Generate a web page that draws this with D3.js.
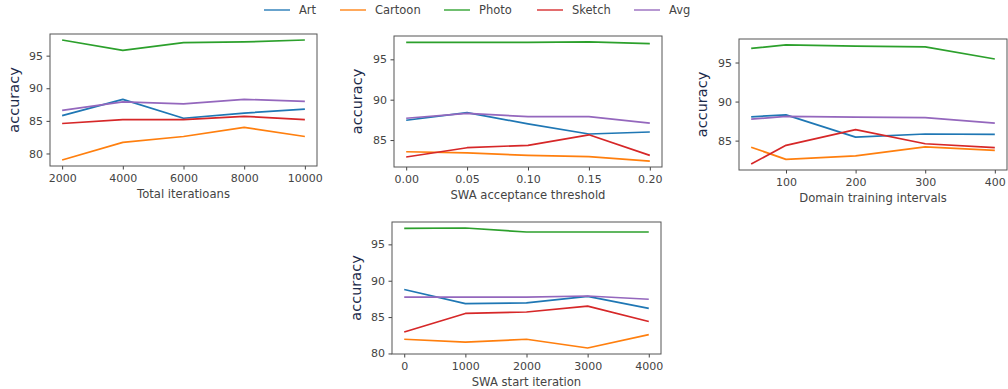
<!DOCTYPE html>
<html>
<head>
<meta charset="utf-8">
<script src="https://cdn.jsdelivr.net/npm/d3@7"></script>
<style>
  body { margin: 0; background: #fff; }
  svg { display: block; font-family: "DejaVu Sans", sans-serif; }
</style>
</head>
<body>
<script>
// series names + colours (matplotlib tab10)
const seriesNames = ['Art', 'Cartoon', 'Photo', 'Sketch', 'Avg'];
const seriesColors = ['#1f77b4', '#ff7f0e', '#2ca02c', '#d62728', '#9467bd'];

// panel 1: total iterations
const iterX = [2000, 4000, 6000, 8000, 10000];
const iterArt = [85.8, 88.3, 85.4, 86.2, 86.8];
const iterCartoon = [79.0, 81.7, 82.6, 84.0, 82.6];
const iterPhoto = [97.4, 95.8, 97.0, 97.1, 97.4];
const iterSketch = [84.6, 85.2, 85.2, 85.7, 85.2];
const iterAvg = [86.6, 87.9, 87.6, 88.3, 88.0];

// panel 2: SWA acceptance threshold
const thrX = [0.00, 0.05, 0.10, 0.15, 0.20];
const thrArt = [87.45, 88.4, 87.0, 85.75, 86.0];
const thrCartoon = [83.55, 83.4, 83.1, 82.95, 82.4];
const thrPhoto = [97.1, 97.1, 97.1, 97.15, 96.95];
const thrSketch = [82.9, 84.05, 84.35, 85.65, 83.1];
const thrAvg = [87.7, 88.3, 87.9, 87.9, 87.1];

// panel 3: domain training intervals
const domX = [50, 100, 200, 300, 400];
const domArt = [88.05, 88.3, 85.45, 85.85, 85.8];
const domCartoon = [84.15, 82.6, 83.05, 84.2, 83.75];
const domPhoto = [96.8, 97.25, 97.1, 97.0, 95.45];
const domSketch = [82.0, 84.4, 86.4, 84.6, 84.1];
const domAvg = [87.75, 88.1, 88.0, 87.95, 87.25];

// panel 4: SWA start iteration
const startX = [0, 1000, 2000, 3000, 4000];
const startArt = [88.8, 86.85, 86.95, 87.85, 86.2];
const startCartoon = [81.95, 81.55, 81.95, 80.75, 82.6];
const startPhoto = [97.2, 97.25, 96.7, 96.7, 96.7];
const startSketch = [82.95, 85.5, 85.7, 86.5, 84.4];
const startAvg = [87.75, 87.75, 87.75, 87.9, 87.45];

const yTickValues = [80, 85, 90, 95];

const panels = [
  { label: 'Total iteratioans', x: iterX, ys: [iterArt, iterCartoon, iterPhoto, iterSketch, iterAvg],
    xTicks: [2000, 4000, 6000, 8000, 10000], fmt: d3.format('d'),
    box: { l: 50, r: 317, t: 34, b: 166 }, ylabX: 14 },
  { label: 'SWA acceptance threshold', x: thrX, ys: [thrArt, thrCartoon, thrPhoto, thrSketch, thrAvg],
    xTicks: [0, 0.05, 0.10, 0.15, 0.20], fmt: d3.format('.2f'),
    box: { l: 394, r: 662, t: 36, b: 167 }, ylabX: 357 },
  { label: 'Domain training intervals', x: domX, ys: [domArt, domCartoon, domPhoto, domSketch, domAvg],
    xTicks: [100, 200, 300, 400], fmt: d3.format('d'),
    box: { l: 739, r: 1007, t: 39, b: 170 }, ylabX: 702 },
  { label: 'SWA start iteration', x: startX, ys: [startArt, startCartoon, startPhoto, startSketch, startAvg],
    xTicks: [0, 1000, 2000, 3000, 4000], fmt: d3.format('d'),
    box: { l: 392, r: 661, t: 222, b: 354 }, ylabX: 356 }
];

const W = 1008, H = 389;
const svg = d3.select('body').append('svg').attr('width', W).attr('height', H);

// matplotlib-like 5% margins
function padded(ext) {
  const m = (ext[1] - ext[0]) * 0.05;
  return [ext[0] - m, ext[1] + m];
}

panels.forEach(p => {
  const b = p.box;
  const xScale = d3.scaleLinear().domain(padded(d3.extent(p.x))).range([b.l, b.r]);
  const yScale = d3.scaleLinear().domain(padded(d3.extent(p.ys.flat()))).range([b.b, b.t]);
  const g = svg.append('g');

  p.ys.forEach((vals, i) => {
    const line = d3.line().x((d, j) => xScale(p.x[j])).y(d => yScale(d));
    g.append('path')
      .datum(vals)
      .attr('d', line)
      .attr('fill', 'none')
      .attr('stroke', seriesColors[i])
      .attr('stroke-width', 1.7)
      .attr('stroke-linejoin', 'round');
  });

  const yt = yTickValues.filter(v => v >= yScale.domain()[0] && v <= yScale.domain()[1]);
  const xAxis = d3.axisBottom(xScale).tickValues(p.xTicks).tickFormat(p.fmt).tickSize(3.5).tickPadding(4.5);
  const yAxis = d3.axisLeft(yScale).tickValues(yt).tickSize(3.5).tickPadding(3.5);

  const gx = g.append('g').attr('transform', 'translate(0,' + b.b + ')').call(xAxis);
  const gy = g.append('g').attr('transform', 'translate(' + b.l + ',0)').call(yAxis);
  [gx, gy].forEach(ax => {
    ax.select('.domain').remove();
    ax.selectAll('line').attr('stroke', '#444');
    ax.selectAll('text').attr('fill', '#444').style('font-size', '11px').style('font-family', '"DejaVu Sans", sans-serif');
  });

  g.append('rect')
    .attr('x', b.l).attr('y', b.t)
    .attr('width', b.r - b.l).attr('height', b.b - b.t)
    .attr('fill', 'none').attr('stroke', '#555').attr('stroke-width', 1);

  g.append('text')
    .attr('x', (b.l + b.r) / 2).attr('y', b.b + 31.5)
    .attr('text-anchor', 'middle')
    .attr('fill', '#444')
    .style('font-size', '11.6px')
    .text(p.label);

  const cy = (b.t + b.b) / 2;
  g.append('text')
    .attr('transform', 'translate(' + p.ylabX + ',' + cy + ') rotate(-90)')
    .attr('text-anchor', 'middle')
    .attr('dy', '0.35em')
    .attr('fill', '#1b2a4a')
    .style('font-size', '14.5px')
    .text('accuracy');
});

// legend
const legendX = [264, 340, 444, 537, 634];
const leg = svg.append('g');
seriesNames.forEach((name, i) => {
  leg.append('line')
    .attr('x1', legendX[i]).attr('x2', legendX[i] + 26)
    .attr('y1', 10).attr('y2', 10)
    .attr('stroke', seriesColors[i]).attr('stroke-width', 1.7)
    .attr('stroke-opacity', 0.8);
  leg.append('text')
    .attr('x', legendX[i] + 35).attr('y', 10)
    .attr('dy', '0.35em')
    .attr('fill', '#444')
    .style('font-size', '11.5px')
    .text(name);
});
</script>
</body>
</html>
